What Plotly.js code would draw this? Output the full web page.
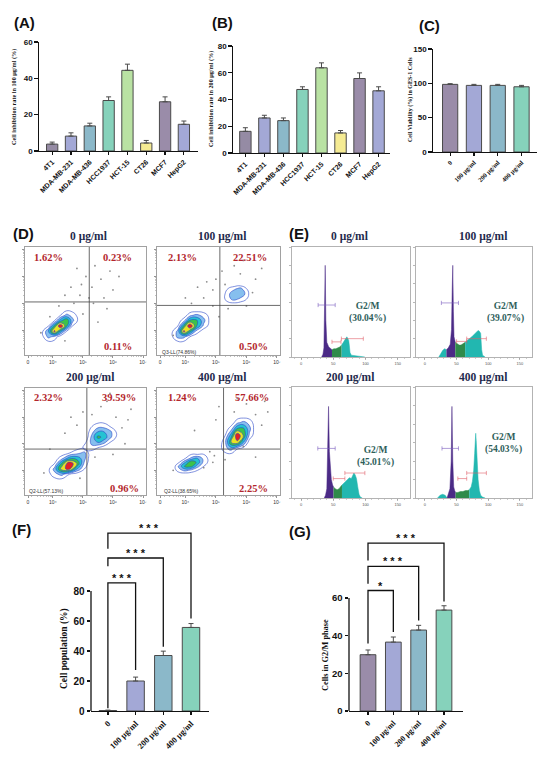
<!DOCTYPE html>
<html><head><meta charset="utf-8">
<script src="https://cdn.plot.ly/plotly-3.0.1.min.js"></script>
<style>body{margin:0;background:#fff}#chart{width:550px;height:757px}</style>
</head><body><div id="chart"></div>
<script>
// ---------------- DATA ----------------
const cellLines = ['4T1','MDA-MB-231','MDA-MB-436','HCC1937','HCT-15','CT26','MCF7','HepG2'];
const inhib100 = [3.8,8.2,13.8,27.8,44.4,4.4,27.1,14.7];
const inhib100Err = [1.1,1.8,1.5,2.0,3.4,1.4,2.7,1.8];
const inhib200 = [16.2,26.2,24.2,47.5,63.7,15.0,55.7,46.5];
const inhib200Err = [2.7,2.0,2.0,2.0,3.7,1.8,4.2,3.0];
const doses = ['0','100 μg/ml','200 μg/ml','400 μg/ml'];
const viability = [98.5,97.0,97.0,95.0];
const viabilityErr = [1.0,1.5,1.5,2.0];
const apoptosis = [0.3,20.0,37.0,55.7];
const apoptosisErr = [0.3,2.6,2.9,2.6];
const g2mPct = [29.9,36.6,43.0,53.6];
const g2mErr = [2.5,2.7,2.5,2.3];

// significance brackets (comparison of dose 0 with dose index)
const fSigTo = [1,2,3];
const fSigTop = [85.4,102,118.6];
const fSigLeftEnd = [1.8,96.5,108.2];
const fSigRightEnd = [27.3,42.8,61.6];
const fSigText = ['* * *','* * *','* * *'];
const gSigTo = [1,2,3];
const gSigTop = [64,76.8,89.2];
const gSigLeftEnd = [35.8,67.6,80];
const gSigRightEnd = [41.9,48.1,58.2];
const gSigText = ['*','* * *','* * *'];

// panel D: flow cytometry (Annexin V / PI)
const dDoses = ['0 μg/ml','100 μg/ml','200 μg/ml','400 μg/ml'];
const dUL = ['1.62%','2.13%','2.32%','1.24%'];
const dUR = ['0.23%','22.51%','39.59%','57.66%'];
const dLR = ['0.11%','0.50%','0.96%','2.25%'];
const dLL = ['','Q3-LL(74.86%)','Q2-LL(57.13%)','Q2-LL(38.65%)'];
const dGateX = [5.21,5.13,5.13,5.25];
const dGateY = [5.05,4.92,4.80,4.80];
const dTickText = ['0','10⁴','10⁵','10⁶','10⁷'];
// density clusters: [panel, xgrid, ygrid, z]
const dClusters = [
 [0,[3.6,3.85,4.05,4.25,4.45,4.65,4.9],[3.5,3.75,3.95,4.15,4.35,4.55,4.8],
  [[0,0,0,0,0,0,0],[0,3,2,0,0,0,0],[0,4,9,5,1,0,0],[0,1,6,10,6,1,0],[0,0,1,5,7,3,0],[0,0,0,1,3,2,0],[0,0,0,0,0,0,0]]],
 [1,[3.5,3.75,3.95,4.15,4.35,4.6,4.85],[3.5,3.75,3.95,4.15,4.35,4.55,4.75],
  [[0,0,0,0,0,0,0],[0,3,3,1,0,0,0],[0,3,9,6,2,0,0],[0,1,6,10,6,2,0],[0,0,2,6,6,3,0],[0,0,0,2,3,2,0],[0,0,0,0,0,0,0]]],
 [1,[5.2,5.4,5.6,5.8,6.0,6.15],[4.95,5.15,5.35,5.55,5.7],
  [[0,0,0,0,0,0],[0,2,3,2,1,0],[0,2,4,4,2,0],[0,1,2,3,1,0],[0,0,0,0,0,0]]],
 [2,[3.8,4.05,4.3,4.55,4.8,5.05,5.25],[3.6,3.85,4.05,4.25,4.45,4.65,4.9],
  [[0,0,0,0,0,0,0],[0,2,3,1,0,0,0],[0,3,8,9,4,1,0],[0,1,6,10,7,2,0],[0,0,2,5,5,3,0],[0,0,0,1,2,3,0],[0,0,0,0,0,0,0]]],
 [2,[4.9,5.1,5.3,5.5,5.7,5.9,6.2],[4.65,4.85,5.05,5.25,5.45,5.65,5.9],
  [[0,0,0,0,0,0,0],[0,2,2,1,0,0,0],[0,1,3,4,3,1,0],[0,0,3,6,5,3,0],[0,0,2,4,4,3,0],[0,0,1,2,2,1,0],[0,0,0,0,0,0,0]]],
 [3,[3.6,3.8,4.0,4.2,4.4,4.6,4.85],[3.85,4.0,4.15,4.3,4.45,4.6,4.9],
  [[0,0,0,0,0,0,0],[0,2,3,2,1,0,0],[0,3,6,6,3,1,0],[0,1,4,7,5,2,0],[0,0,1,3,4,2,0],[0,0,0,1,1,1,0],[0,0,0,0,0,0,0]]],
 [3,[5.1,5.3,5.5,5.7,5.9,6.1,6.3],[4.55,4.8,5.05,5.3,5.55,5.8,6.05],
  [[0,0,0,0,0,0,0],[0,2,3,1,0,0,0],[0,2,7,8,4,0,0],[0,1,5,10,7,2,0],[0,0,2,6,6,3,0],[0,0,0,2,3,2,0],[0,0,0,0,0,0,0]]]
];
const dDotsX = [
 [4.9,5.3,5.6,5.9,5.4,6.0,5.1,4.6,5.7,4.2,5.0,5.5,3.6,4.4,6.2,5.2,4.8,5.8,6.4,4.4,4.7,5.35,4.95,3.9],
 [4.9,4.6,5.0,4.4,5.8,6.2,6.3,5.6,5.2,4.0,4.9,5.1,6.0,3.6,5.4,6.5,4.7,5.9,4.2,5.3],
 [5.0,5.6,6.1,5.8,6.3,4.8,4.4,6.4,5.4,3.7,3.9,6.0,4.9,5.3,6.6,4.6,5.9,6.5],
 [5.6,6.0,6.3,6.5,5.0,4.8,4.9,4.6,5.3,6.3,3.6,6.6,5.1,4.3,5.9,5.7,4.95,6.7]
];
const dDotsY = [
 [5.3,5.6,5.9,6.2,6.4,5.5,6.0,5.6,5.2,4.9,4.6,4.3,3.9,3.6,6.0,5.2,6.3,4.8,6.6,5.3,5.0,5.0,5.7,4.5],
 [5.5,5.2,5.9,5.6,6.1,5.4,5.9,6.4,6.2,5.2,4.9,4.5,4.9,3.8,4.8,6.3,5.8,6.6,5.0,5.7],
 [6.2,6.4,6.0,6.6,5.6,5.7,5.4,5.0,4.5,3.9,4.8,4.6,3.7,6.1,6.3,6.0,6.9,5.9],
 [6.2,6.5,6.1,5.7,5.9,4.7,4.3,4.1,4.4,4.5,4.0,6.6,6.4,5.5,4.9,6.7,4.55,6.2]
];

// panel E: DNA content histograms
const eDoses = ['0 μg/ml','100 μg/ml','200 μg/ml','400 μg/ml'];
const eG2M = ['30.04%','39.07%','45.01%','54.03%'];
const eDebX = [[],[22,25,28,31,34],[],[20,24,28,32,35]];
const eDebY = [[],[0,4,7,9,8],[],[0,3,4,3,0]];
const eG1X = [
 [32,34,35.5,36.5,37.5,38.5,40,43,46,48],
 [34,37,40,42,43,44,45,46,48],
 [36,38,40,41.5,42.7,44,45.5,47,49,50.5],
 [35,37,39.5,41.5,42.7,44,45.5,47,48.5]
];
const eG1Y = [
 [0,3,10,40,100,40,16,11,9,8],
 [8,10,14,30,70,100,50,22,16],
 [0,3,10,45,99,50,28,20,14,12],
 [0,4,10,40,99,40,12,8,6]
];
const eSX = [
 [48,51,54,57,60,63],
 [48,51,54,57,60,63.5],
 [50.5,53,56,59,61,63.5],
 [48.5,52,56,60,64,68,70]
];
const eSY = [
 [8,9,9,10,11,13],
 [16,14,13,13,14,16],
 [12,10,9,10,12,14],
 [6,6,7,7,8,8,9]
];
const eG2X = [
 [63,65,67,69,71,72,74,75,76,78,82,88,95,99],
 [63.5,66,70,74,78,81,84,86,88,89.6,91,95],
 [63.5,66,69,72,75,78,80,82,84,86,88,90,92,95],
 [70,73,75,77,78.5,79.5,80.2,81,82.5,84,86,88,91,95]
];
const eG2Y = [
 [13,15,17,19,22,21,18,12,5,2,1.5,1,0.5,0],
 [16,18,20,22,25,27,29,28,26,8,2,0],
 [14,16,18,20,22,21,24,27,25,21,12,4,1,0],
 [9,12,18,30,48,62,70,62,40,20,8,3,1,0]
];
// gate markers [from, to, level]
const eGateG1 = [[26.5,53,56.7],[26,53,59],[26,53,53.6],[27,53,53.6]];
const eGateS = [[48,62,16.5],[50,66,17],[50,68,21],[52,66,21]];
const eGateG2 = [[62.6,96.6,20],[66,97,20],[68,99,27],[66,97,27]];

// ---------------- STYLE / LAYOUT ----------------
const colorsA = ['#958ba4','#a3a8d6','#8bb8c9','#86d2bb','#b9e2a3','#f5eb93','#9a8ca9','#a3a8d6'];
const colorsDose = ['#9a8ca9','#a3a8d6','#8bb8c9','#86d2bb'];
const sans = 'Arial, "Liberation Sans", sans-serif';
const serif = '"Times New Roman", "Liberation Serif", serif';
const W=550, H=757;
const px = x => x/W, py = y => 1 - y/H;
const rects = {
 1:[39,42,198,151], 2:[233,46,390,153], 3:[433,49,537,152],
 4:[25,247,146,355], 5:[157,247,280,355], 6:[25,388,146,495], 7:[157,388,280,495],
 8:[292,247,410,357], 9:[416,247,532,357], 10:[292,387,410,498], 11:[416,387,532,498],
 12:[91,523.5,209,711], 13:[349,537.8,463,711]
};
const suf = n => n===1 ? '' : String(n);
const key = (n,a) => a+'axis'+suf(n);
const dom = r => ({x:[px(r[0]),px(r[2])], y:[py(r[3]),py(r[1])]});

const layout = {width:W, height:H, margin:{l:0,r:0,t:0,b:0}, paper_bgcolor:'#fff', plot_bgcolor:'rgba(0,0,0,0)',
  showlegend:false, annotations:[], shapes:[], bargap:0};
const traces = [];
function note(x, y, text, font, extra){
  layout.annotations.push(Object.assign({xref:'paper', yref:'paper', x:px(x), y:py(y), text:text, showarrow:false,
    xanchor:'center', yanchor:'middle', font:font}, extra||{}));
}

function barPanel(n, cats, vals, errs, colors, width, yrange, tickvals, catRange, yTickSize, xFont, yLine){
  const d = dom(rects[n]);
  layout[key(n,'x')] = {domain:d.x, anchor:'y'+suf(n), type:'category', range:catRange, showline:true,
    linecolor:'#111', linewidth:1.3, ticks:'outside', ticklen:3, tickwidth:1.2, tickcolor:'#111',
    tickangle:-45, tickfont:xFont, showgrid:false, zeroline:false};
  layout[key(n,'y')] = {domain:d.y, anchor:'x'+suf(n), range:yrange, tickvals:tickvals, showline:yLine,
    linecolor:'#111', linewidth:1.3, ticks:'outside', ticklen:3.5, tickwidth:1.2, tickcolor:'#111',
    tickfont:{family:sans, size:yTickSize, color:'#111', weight:'bold'}, showgrid:false, zeroline:false};
  traces.push({type:'bar', x:cats, y:vals, width:width, xaxis:'x'+suf(n), yaxis:'y'+suf(n),
    marker:{color:colors, line:{color:'#4a4a4a', width:1}},
    error_y:{type:'data', array:errs, symmetric:false, arrayminus:errs.map(()=>0), color:'#4a4a4a', thickness:1, width:2.5},
    hoverinfo:'skip'});
}
const catFontA = {family:sans, size:7, color:'#111', weight:'bold'};
barPanel(1, cellLines, inhib100, inhib100Err, colorsA, 0.6, [0,60], [0,20,40,60], [-0.7,7.75], 8, catFontA, true);
barPanel(2, cellLines, inhib200, inhib200Err, colorsA, 0.6, [0,80], [0,20,40,60,80], [-0.65,7.6], 8, catFontA, true);
barPanel(3, doses, viability, viabilityErr, colorsDose, 0.64, [0,150], [0,50,100,150], [-0.72,3.65], 8,
  {family:serif, size:6.5, color:'#111', weight:'bold'}, true);
barPanel(12, doses, apoptosis, apoptosisErr, colorsDose, 0.63, [0,125], [0,20,40,60,80], [-0.61,3.65], 10,
  {family:serif, size:8.5, color:'#111', weight:'bold'}, false);
barPanel(13, doses, g2mPct, g2mErr, colorsDose, 0.62, [0,92], [0,20,40,60], [-0.75,3.75], 9.5,
  {family:serif, size:8, color:'#111', weight:'bold'}, false);
layout.shapes.push({type:'line', xref:'x12 domain', yref:'y12', x0:0, x1:0, y0:0, y1:80, line:{color:'#111', width:1.3}});
layout.shapes.push({type:'line', xref:'x13 domain', yref:'y13', x0:0, x1:0, y0:0, y1:60, line:{color:'#111', width:1.3}});

function brackets(n, to, tops, lefts, rights, texts){
  const x=[], y=[];
  to.forEach((t,i)=>{ x.push(doses[0],doses[0],doses[t],doses[t],null); y.push(lefts[i],tops[i],tops[i],rights[i],null); });
  traces.push({type:'scatter', mode:'lines', x:x, y:y, xaxis:'x'+suf(n), yaxis:'y'+suf(n),
    line:{color:'#111', width:1.3}, hoverinfo:'skip', connectgaps:false});
  to.forEach((t,i)=>{ layout.annotations.push({xref:'x'+suf(n), yref:'y'+suf(n), x:t/2, y:tops[i], text:texts[i],
    showarrow:false, xanchor:'center', yanchor:'bottom', yshift:-3, font:{family:sans, size:11, color:'#111', weight:'bold'}}); });
}
brackets(12, fSigTo, fSigTop, fSigLeftEnd, fSigRightEnd, fSigText);
brackets(13, gSigTo, gSigTop, gSigLeftEnd, gSigRightEnd, gSigText);

// ---- panel D axes ----
const minorD = [];
[3,4,5,6].forEach(dec=>{ for(let k=2;k<10;k++){ const v=dec+Math.log10(k); if(v>3.2) minorD.push(v); } });
const contourScale = [[0,'rgba(255,255,255,0)'],[0.09,'rgba(255,255,255,0)'],[0.1,'#d6eafa'],[0.24,'#d6eafa'],
  [0.26,'#3594e2'],[0.39,'#3594e2'],[0.41,'#25c2d2'],[0.54,'#25c2d2'],[0.56,'#3cc24a'],[0.69,'#3cc24a'],
  [0.71,'#e9e323'],[0.84,'#e9e323'],[0.86,'#e42222'],[1,'#e42222']];
for(let i=0;i<4;i++){
  const n=4+i, d=dom(rects[n]);
  layout[key(n,'x')] = {domain:d.x, anchor:'y'+n, range:[3.07,7.1], tickvals:[3.17,4,5,6,7], ticktext:dTickText,
    tickfont:{family:sans, size:5, color:'#333'}, ticks:'outside', ticklen:2.5, tickcolor:'#666', tickwidth:0.7,
    showline:true, mirror:true, linecolor:'#8a8a8a', linewidth:0.8, showgrid:false, zeroline:false,
    minor:{tickvals:minorD, ticks:'outside', ticklen:1.5, tickcolor:'#888', tickwidth:0.5}};
  layout[key(n,'y')] = {domain:d.y, anchor:'x'+n, range:[3.07,7.1], tickvals:[4,5,6,7], showticklabels:false,
    ticks:'outside', ticklen:2.5, tickcolor:'#666', tickwidth:0.7,
    showline:true, mirror:true, linecolor:'#8a8a8a', linewidth:0.8, showgrid:false, zeroline:false,
    minor:{tickvals:minorD, ticks:'outside', ticklen:1.5, tickcolor:'#888', tickwidth:0.5}};
  traces.push({type:'scatter', mode:'markers', x:dDotsX[i], y:dDotsY[i], xaxis:'x'+n, yaxis:'y'+n,
    marker:{size:1.8, color:'#8c8c8c'}, hoverinfo:'skip'});
  layout.shapes.push({type:'line', xref:'x'+n, yref:'y'+n+' domain', x0:dGateX[i], x1:dGateX[i], y0:0, y1:1, line:{color:'#444', width:0.8}});
  layout.shapes.push({type:'line', xref:'x'+n+' domain', yref:'y'+n, x0:0, x1:1, y0:dGateY[i], y1:dGateY[i], line:{color:'#444', width:0.8}});
}
dClusters.forEach(c=>{
  const n=4+c[0];
  traces.push({type:'contour', x:c[1], y:c[2], z:c[3], xaxis:'x'+n, yaxis:'y'+n, zmin:0, zmax:10, zauto:false,
    colorscale:contourScale, showscale:false, contours:{start:1, end:10, size:1.5, coloring:'fill'},
    line:{color:'#2a46c8', width:0.6, smoothing:1.3}, hoverinfo:'skip'});
});
// D texts
const redFont = {family:serif, size:10.5, color:'#b3262c', weight:'bold'};
const dULpos = [[48,257],[182,258],[48,398],[182,398]];
const dURpos = [[117,257],[250,258],[119,398],[252,398]];
const dLRpos = [[118,346],[253,347],[124,488],[253,488]];
const dLLpos = [[0,0],[160,352],[27,491],[162,491]];
const dTitlePos = [[88,236],[222,236],[90,378],[222,378]];
const titleFont = {family:serif, size:11.5, color:'#1f2a4d', weight:'bold'};
for(let i=0;i<4;i++){
  note(dULpos[i][0], dULpos[i][1], dUL[i], redFont);
  note(dURpos[i][0], dURpos[i][1], dUR[i], redFont);
  note(dLRpos[i][0], dLRpos[i][1], dLR[i], redFont);
  if(dLL[i]) note(dLLpos[i][0], dLLpos[i][1], dLL[i], {family:sans, size:5, color:'#333'}, {xanchor:'left'});
  note(dTitlePos[i][0], dTitlePos[i][1], dDoses[i], titleFont);
}

// ---- panel E ----
const eTitlePos = [[349,236],[483,236],[350,378],[483,378]];
const eLabPos = [[367,312],[505,312],[375,456],[503,443]];
for(let i=0;i<4;i++){
  const n=8+i, d=dom(rects[n]);
  layout[key(n,'x')] = {domain:d.x, anchor:'y'+n, range:[-14,169], tickvals:[0,50,100,150],
    tickfont:{family:sans, size:4, color:'#555'}, ticks:'outside', ticklen:2, tickcolor:'#888', tickwidth:0.6,
    showline:true, mirror:true, linecolor:'#a0a0a0', linewidth:0.8, showgrid:false, zeroline:false,
    minor:{dtick:10, ticks:'outside', ticklen:1, tickcolor:'#aaa'}};
  layout[key(n,'y')] = {domain:d.y, anchor:'x'+n, range:[0,120], tickvals:[0,20,40,60,80,100,120], showticklabels:false,
    ticks:'outside', ticklen:2, tickcolor:'#888', tickwidth:0.6,
    showline:true, mirror:true, linecolor:'#a0a0a0', linewidth:0.8, showgrid:false, zeroline:false};
  const parts = [[eDebX[i],eDebY[i],'#22b7b0'],[eG1X[i],eG1Y[i],'#4b2a86'],[eSX[i],eSY[i],'#2f8a4a'],[eG2X[i],eG2Y[i],'#22b7b0']];
  parts.forEach(p=>{ if(p[0].length) traces.push({type:'scatter', mode:'lines', x:p[0], y:p[1], xaxis:'x'+n, yaxis:'y'+n,
    fill:'tozeroy', fillcolor:p[2], line:{width:0.5, color:p[2]}, hoverinfo:'skip'}); });
  [[eGateG1[i],'#7a5cc0'],[eGateS[i],'#e0606a'],[eGateG2[i],'#e0606a']].forEach(g=>{
    traces.push({type:'scatter', mode:'lines+markers', x:[g[0][0],g[0][1]], y:[g[0][2],g[0][2]], xaxis:'x'+n, yaxis:'y'+n,
      line:{color:g[1], width:0.6}, marker:{symbol:'line-ns-open', size:3, color:g[1], line:{color:g[1], width:0.6}}, hoverinfo:'skip'});
  });
  note(eTitlePos[i][0], eTitlePos[i][1], eDoses[i], titleFont);
  note(eLabPos[i][0], eLabPos[i][1], 'G2/M<br>('+eG2M[i]+')', {family:serif, size:9.5, color:'#2e5e5a', weight:'bold'});
}

// ---- axis titles & panel letters ----
const axTitles = [
 ['Cell inhibition rate in 100 μg/ml (%)',14,97,6.2],
 ['Cell inhibition rate in 200 μg/ml (%)',211,99,6.2],
 ['Cell Viability (%) in GES-1 Cells',411,100,6],
 ['Cell population (%)',64,649,9.5],
 ['Cells in G2/M phase',325,655,8.3]
];
axTitles.forEach(t=>note(t[1], t[2], t[0], {family:serif, size:t[3], color:'#111', weight:'bold'}, {textangle:-90}));
const letters = [['(A)',12,22],['(B)',210,22],['(C)',417,25],['(D)',11,234],['(E)',287,234],['(F)',10,529],['(G)',287,531]];
letters.forEach(l=>note(l[1], l[2], l[0], {family:sans, size:15, color:'#111', weight:'bold'}, {xanchor:'left'}));

Plotly.newPlot('chart', traces, layout, {staticPlot:true, displayModeBar:false});
</script></body></html>
